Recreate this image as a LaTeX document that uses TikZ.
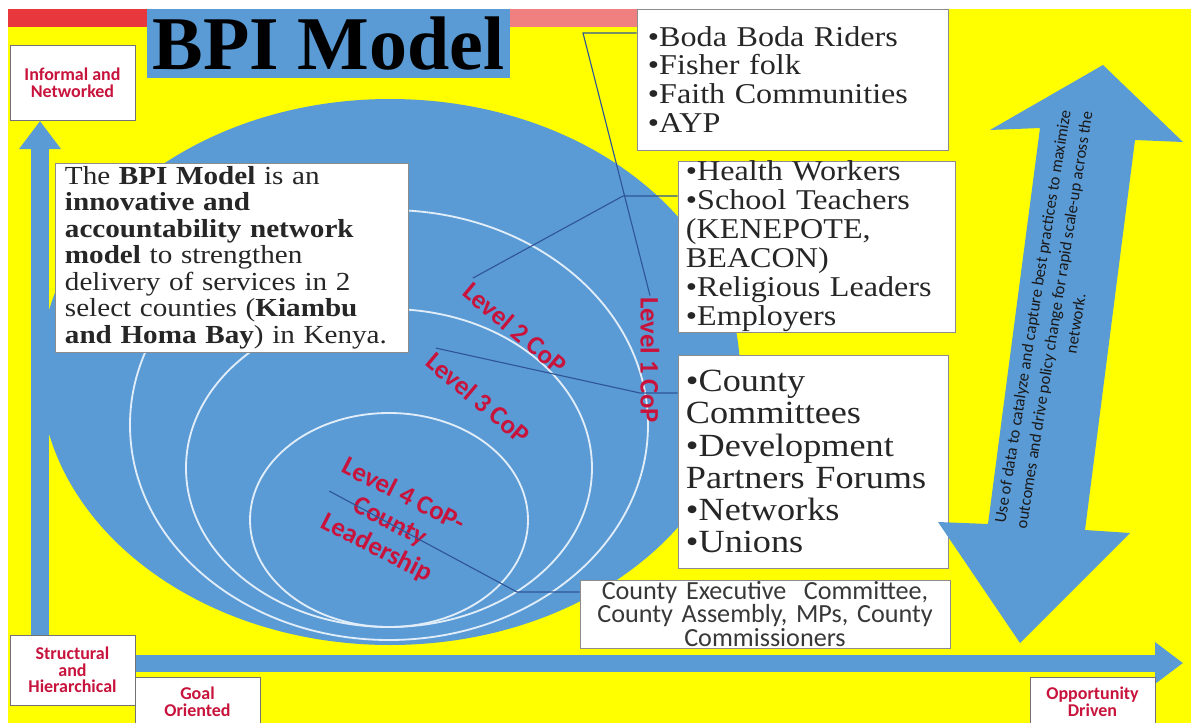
\documentclass[tikz,border=0pt]{standalone}
\usepackage{fontspec}
\usepackage{tikz}
\usetikzlibrary{arrows.meta}
\newfontfamily\cambria[FakeStretch=1.12]{Liberation Serif}
\newfontfamily\timesfont{Liberation Serif}
\newfontfamily\calibri{Carlito}
\definecolor{ppblue}{RGB}{91,155,213}
\definecolor{ppyellow}{RGB}{255,255,0}
\definecolor{ppred}{RGB}{232,56,62}
\definecolor{pppink}{RGB}{240,128,128}
\definecolor{copred}{RGB}{200,20,60}
\definecolor{linkblue}{RGB}{47,85,151}
\definecolor{ringwhite}{RGB}{225,238,250}
\tikzset{>=latex}
\tikzset{
  listbox/.style={draw=black!45, fill=white, line width=0.6pt, align=left, inner ysep=0pt, text=black!85},
  corner/.style={draw=black!55, fill=white, line width=0.6pt, align=center, text=copred,
    font=\calibri\bfseries\fontsize{12.8}{11.9}\selectfont, minimum width=3.125cm},
  cop/.style={text=copred, align=center, inner sep=1pt,
    font=\calibri\bfseries\fontsize{19}{20}\selectfont},
  link/.style={draw=linkblue, line width=0.8pt},
  ring/.style={draw=ringwhite, line width=1.3pt},
  axis/.style={draw=ppblue, line width=0.425cm, -{Triangle[width=1cm,length=0.7cm]}},
}

\begin{document}
\begin{tikzpicture}[x=0.025cm, y=-0.025cm]
  \useasboundingbox (0,0) rectangle (1191,723);
  \fill[white] (0,0) rectangle (1191,723);
  \fill[ppyellow] (8,9) rectangle (1191,723);
  \fill[ppred] (8,9) rectangle (147,27);
  \fill[pppink] (510,9) rectangle (637,27);

  % communities of practice
  \fill[ppblue] (390,372) ellipse [x radius=350, y radius=273];
  \draw[ring] (389,425) ellipse [x radius=259, y radius=215];
  \draw[ring] (389,468) ellipse [x radius=203, y radius=159];
  \draw[ring] (389,520) ellipse [x radius=139, y radius=107];

  \node[fill=ppblue, inner sep=0pt, minimum width=9.075cm, minimum height=1.725cm,
        font=\timesfont\bfseries\fontsize{54}{54}\selectfont] (title) at (328.5,43.5) {BPI Model};

  % axes
  \coordinate (corner) at (40,663);
  \coordinate (vtip) at (40,121);
  \coordinate (htip) at (1183,663);
  \draw[axis] (corner) -- (vtip);
  \draw[axis] (corner) -- (htip);

  \node[corner, minimum height=1.875cm] (informal) at (72.5,82.5) {Informal and\\Networked};
  \node[corner, minimum height=1.75cm] (structural) at (72.5,670) {Structural\\and\\Hierarchical};
  \node[corner, minimum height=1.25cm] (goal) at (197.5,702) {Goal\\Oriented};
  \node[corner, minimum height=1.25cm] (opportunity) at (1092.5,702) {Opportunity\\Driven};

  \node[listbox, text width=8.325cm, inner xsep=0.25cm, minimum height=4.725cm,
        font=\cambria\fontsize{18.5}{18.8}\selectfont] (about) at (231.5,257.5)
    {The \textbf{BPI Model} is an\\
     \textbf{innovative and}\\
     \textbf{accountability network}\\
     \textbf{model} to strengthen\\
     delivery of services in 2\\
     select counties (\textbf{Kiambu}\\
     \textbf{and Homa Bay}) in Kenya.};

  \node[listbox, text width=7.225cm, inner xsep=0.275cm, minimum height=3.525cm,
        font=\cambria\fontsize{20.4}{20.6}\selectfont] (grassroots) at (792.5,79.5)
    {•Boda Boda Riders\\•Fisher folk\\•Faith Communities\\•AYP};
  \node[listbox, text width=6.525cm, inner xsep=0.2cm, minimum height=4.175cm,
        font=\cambria\fontsize{20.4}{20.6}\selectfont] (frontline) at (816.5,246.5)
    {•Health Workers\\•School Teachers\\(KENEPOTE,\\BEACON)\\•Religious Leaders\\•Employers};
  \node[listbox, text width=6.35cm, inner xsep=0.2cm, minimum height=5.325cm,
        font=\cambria\fontsize{23}{22.8}\selectfont] (partners) at (813,461.5)
    {•County\\Committees\\•Development\\Partners Forums\\•Networks\\•Unions};
  \node[listbox, align=center, text=black!78, text width=8.75cm, inner xsep=0.25cm, minimum height=1.7cm,
        font=\calibri\fontsize{18.6}{17}\selectfont] (leaders) at (765,614)
    {County Executive\ \ Committee,\\County Assembly, MPs, County\\Commissioners};

  \node[cop, rotate=-90] (level1) at (650,360) {Level 1 CoP};
  \node[cop, rotate=-40] (level2) at (515,328) {Level 2 CoP};
  \node[cop, rotate=-40] (level3) at (478,398) {Level 3 CoP};
  \node[cop, rotate=-27, font=\calibri\bfseries\fontsize{19}{21}\selectfont] (level4) at (390,522)
    {Level 4 CoP-\\County\\Leadership};

  \coordinate (bend1) at (583,33);
  \coordinate (bend2) at (623,196);
  \coordinate (bend3) at (640,393);
  \coordinate (bend4) at (517,592);
  \draw[link] (bend1 -| grassroots.west) -- (bend1) -- (level1.west);
  \draw[link] (bend2 -| frontline.west) -- (bend2) -- (level2.north west);
  \draw[link] (bend3 -| partners.west) -- (bend3) -- (level3.north west);
  \draw[link] (bend4 -| leaders.west) -- (bend4) -- (level4.west);

  % scale-up arrow
  \fill[ppblue] (1103,65) -- (1183,142) -- (1135,140) -- (1085,530) -- (1130,533)
    -- (1020,643) -- (938,522) -- (988,524) -- (1040,128) -- (990,130) -- cycle;
  \node[rotate=81, align=center, text=black!90,
        font=\calibri\fontsize{11.8}{15.5}\selectfont] (datause) at (1054,320)
    {Use of data to catalyze and capture best practices to maximize\\
     outcomes and drive policy change for rapid scale-up across the\\
     network.};
\end{tikzpicture}
\end{document}
